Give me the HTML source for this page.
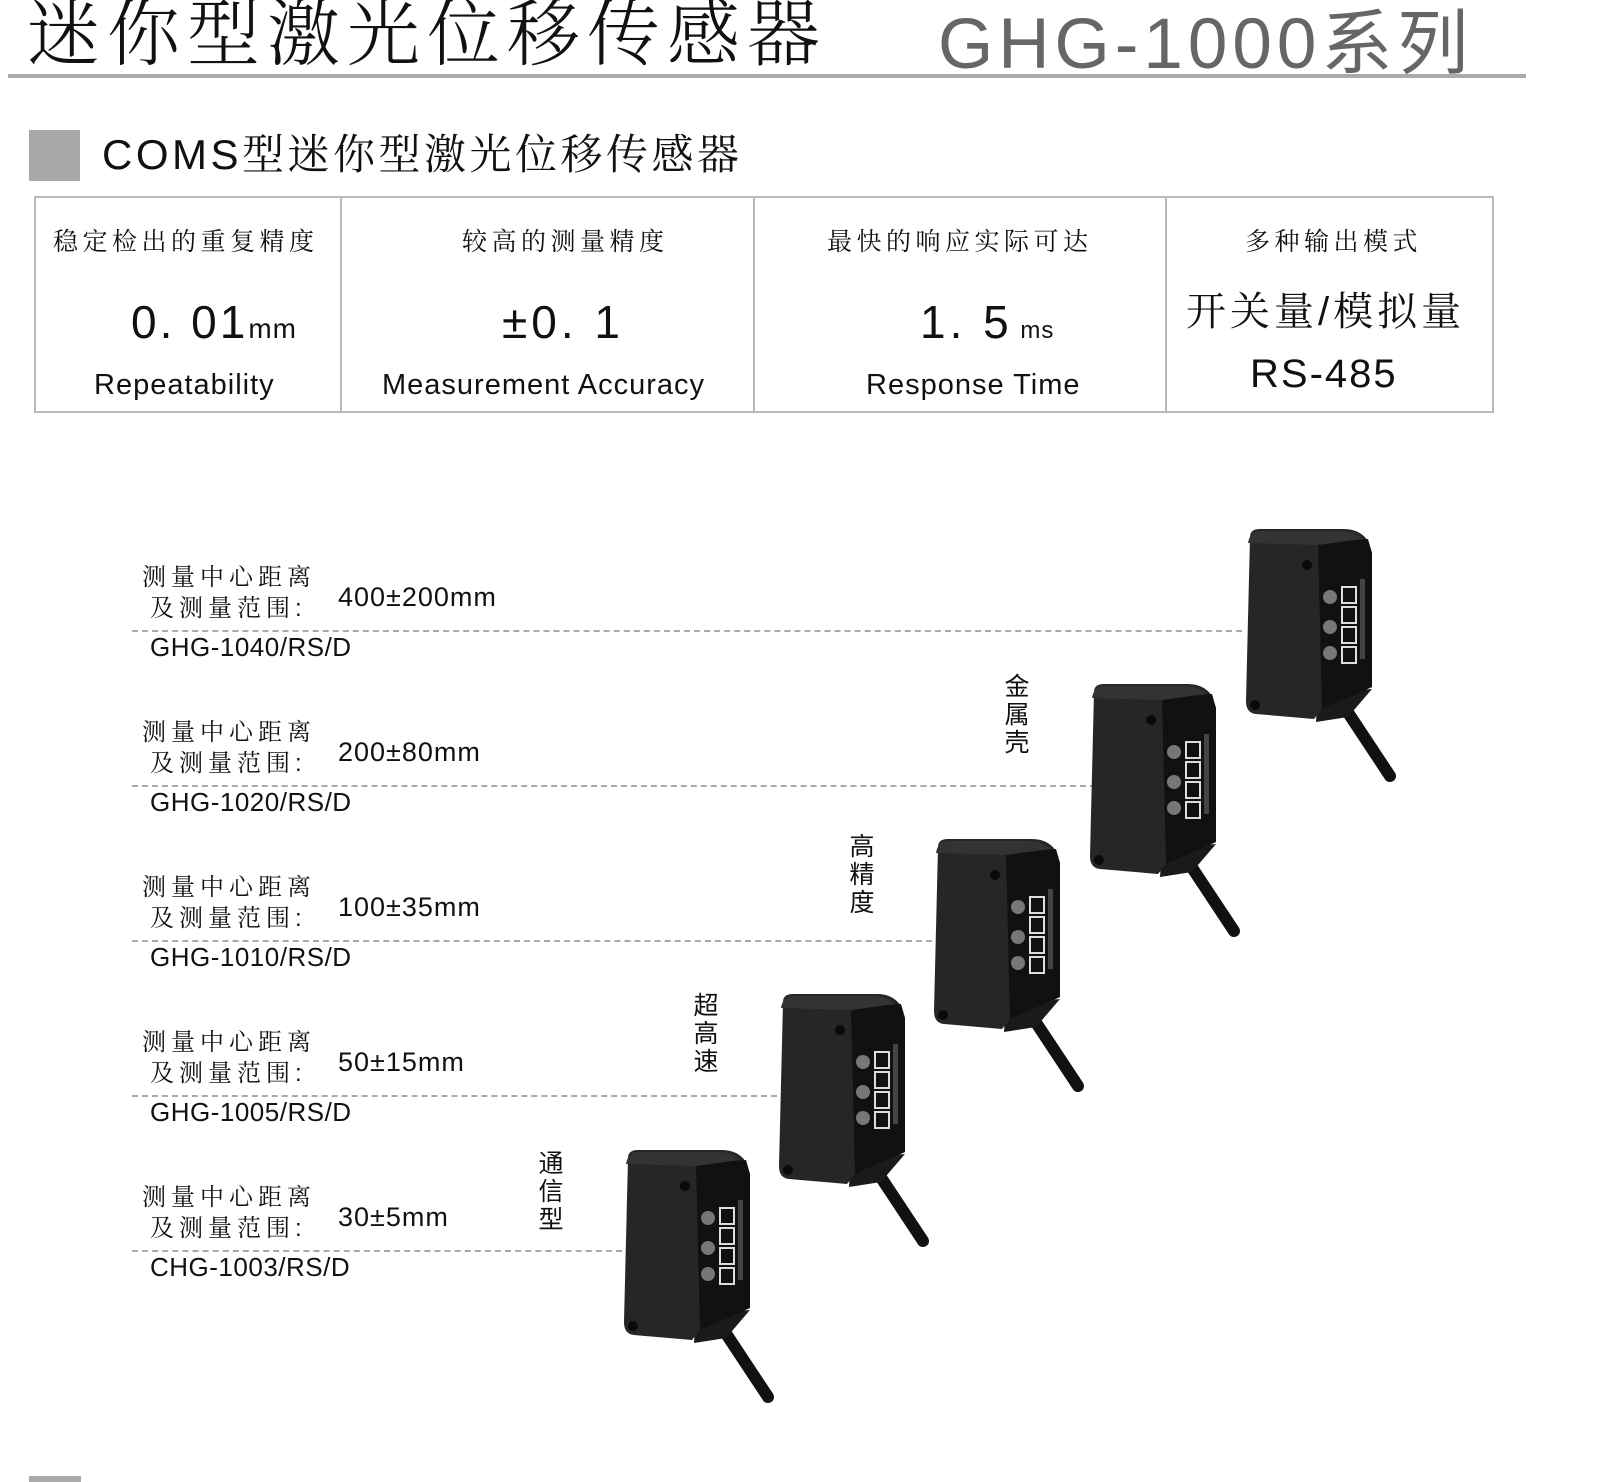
<!DOCTYPE html>
<html><head><meta charset="utf-8"><style>
body{margin:0;width:1600px;height:1482px;background:#fff;position:relative;overflow:hidden;font-family:"Liberation Sans","Noto Sans CJK SC",sans-serif;color:#111}
.a{position:absolute;white-space:nowrap;line-height:1}
.cj{font-family:"Liberation Sans","Noto Serif CJK SC","Noto Sans CJK SC",sans-serif}
.lab{font-size:24px;letter-spacing:5px;font-family:"Liberation Sans","Noto Serif CJK SC",sans-serif}
.val{font-size:27px;letter-spacing:1px}
.mod{font-size:26px;letter-spacing:.5px}
.dash{position:absolute;left:132px;height:0;border-top:2px dashed #aaa}
.vt{position:absolute;font-size:25px;width:28px;line-height:28px;text-align:center;font-family:"Liberation Sans","Noto Sans CJK SC",sans-serif}
.cell{position:absolute;top:196px;height:215px;text-align:center}
</style></head><body>
<div class="a cj" style="left:27px;top:-2px;font-size:73px;letter-spacing:7px;font-weight:300">迷你型激光位移传感器</div>
<div class="a" style="left:938px;top:3px;font-size:71px;color:#666;letter-spacing:5px">GHG-1000<span style="font-family:'Noto Sans CJK SC',sans-serif">系列</span></div>
<div class="a" style="left:8px;top:74px;width:1518px;height:4px;background:#aaa"></div>
<div class="a" style="left:29px;top:130px;width:51px;height:51px;background:#a8a8a8"></div>
<div class="a cj" style="left:102px;top:134px;font-size:42px;letter-spacing:3.5px">COMS型迷你型激光位移传感器</div>
<div class="a" style="left:34px;top:196px;width:1456px;height:213px;border:2px solid #bbb"></div>
<div class="a" style="left:340px;top:196px;width:2px;height:215px;background:#bbb"></div>
<div class="a" style="left:753px;top:196px;width:2px;height:215px;background:#bbb"></div>
<div class="a" style="left:1165px;top:196px;width:2px;height:215px;background:#bbb"></div>

<div class="cell" style="left:36px;width:304px">
<div class="a lab" style="left:17px;top:34px;font-size:25px;letter-spacing:4.5px">稳定检出的重复精度</div>
<div class="a" style="left:95px;top:103px;font-size:46px;letter-spacing:3px">0. 01<span style="font-size:28px;letter-spacing:1px">mm</span></div>
<div class="a" style="left:58px;top:175px;font-size:29px;letter-spacing:1px">Repeatability</div></div>
<div class="cell" style="left:342px;width:411px">
<div class="a lab" style="left:120px;top:34px;font-size:25px;letter-spacing:4.5px">较高的测量精度</div>
<div class="a" style="left:160px;top:103px;font-size:46px;letter-spacing:4px">±0. 1</div>
<div class="a" style="left:40px;top:175px;font-size:29px;letter-spacing:1px">Measurement Accuracy</div></div>
<div class="cell" style="left:755px;width:410px">
<div class="a lab" style="left:72px;top:34px;font-size:25px;letter-spacing:4.5px">最快的响应实际可达</div>
<div class="a" style="left:165px;top:103px;font-size:46px;letter-spacing:4px">1. 5<span style="font-size:24px;letter-spacing:1px"> ms</span></div>
<div class="a" style="left:111px;top:175px;font-size:29px;letter-spacing:1px">Response Time</div></div>
<div class="cell" style="left:1167px;width:323px">
<div class="a lab" style="left:78px;top:34px;font-size:25px;letter-spacing:4.5px">多种输出模式</div>
<div class="a cj" style="left:19px;top:96px;font-size:40px;letter-spacing:4px">开关量/模拟量</div>
<div class="a" style="left:83px;top:158px;font-size:40px;letter-spacing:2px">RS-485</div></div>

<div class="a lab" style="left:142px;top:566px">测量中心距离</div><div class="a lab" style="left:150px;top:597px">及测量范围:</div><div class="a val" style="left:338px;top:584px">400±200mm</div><div class="dash" style="top:630px;width:1110px"></div><div class="a mod" style="left:150px;top:634px">GHG-1040/RS/D</div>
<div class="a lab" style="left:142px;top:721px">测量中心距离</div><div class="a lab" style="left:150px;top:752px">及测量范围:</div><div class="a val" style="left:338px;top:739px">200±80mm</div><div class="dash" style="top:785px;width:964px"></div><div class="a mod" style="left:150px;top:789px">GHG-1020/RS/D</div>
<div class="a lab" style="left:142px;top:876px">测量中心距离</div><div class="a lab" style="left:150px;top:907px">及测量范围:</div><div class="a val" style="left:338px;top:894px">100±35mm</div><div class="dash" style="top:940px;width:800px"></div><div class="a mod" style="left:150px;top:944px">GHG-1010/RS/D</div>
<div class="a lab" style="left:142px;top:1031px">测量中心距离</div><div class="a lab" style="left:150px;top:1062px">及测量范围:</div><div class="a val" style="left:338px;top:1049px">50±15mm</div><div class="dash" style="top:1095px;width:645px"></div><div class="a mod" style="left:150px;top:1099px">GHG-1005/RS/D</div>
<div class="a lab" style="left:142px;top:1186px">测量中心距离</div><div class="a lab" style="left:150px;top:1217px">及测量范围:</div><div class="a val" style="left:338px;top:1204px">30±5mm</div><div class="dash" style="top:1250px;width:490px"></div><div class="a mod" style="left:150px;top:1254px">CHG-1003/RS/D</div>

<div class="vt" style="left:1003px;top:673px">金属壳</div>
<div class="vt" style="left:848px;top:833px">高精度</div>
<div class="vt" style="left:692px;top:992px">超高速</div>
<div class="vt" style="left:537px;top:1150px">通信型</div>

<svg class="a" style="left:0;top:0" width="1600" height="1482">
<defs>
<g id="s">
<line x1="95" y1="170" x2="146" y2="247" stroke="#111" stroke-width="12" stroke-linecap="round"/>
<path d="M74 165 L128 160 L104 188 L72 193 Z" fill="#1a1a1a"/>
<path d="M6 8 Q6 0 16 0 L100 0 Q116 0 124 12 L128 24 L128 158 L78 180 L70 190 L12 185 Q2 184 2 172 Z" fill="#262626"/>
<path d="M74 14 L124 10 L128 24 L128 158 L78 180 Z" fill="#111"/>
<path d="M4 14 Q6 2 16 2 L96 2 Q110 2 118 10 L74 16 Z" fill="#333"/>
<circle cx="63" cy="36" r="5" fill="#0a0a0a"/>
<circle cx="11" cy="176" r="5" fill="#0a0a0a"/>
<g fill="none" stroke="#ddd" stroke-width="2">
<rect x="98" y="58" width="14" height="16"/><rect x="98" y="78" width="14" height="16"/><rect x="98" y="98" width="14" height="16"/><rect x="98" y="118" width="14" height="16"/>
</g>
<circle cx="86" cy="68" r="7" fill="#777"/>
<circle cx="86" cy="98" r="7" fill="#777"/>
<circle cx="86" cy="124" r="7" fill="#777"/>
<rect x="116" y="50" width="5" height="80" fill="#444"/>
</g>
</defs>
<use href="#s" x="1244" y="529"/>
<use href="#s" x="1088" y="684"/>
<use href="#s" x="932" y="839"/>
<use href="#s" x="777" y="994"/>
<use href="#s" x="622" y="1150"/>
</svg>
<div class="a" style="left:29px;top:1476px;width:52px;height:6px;background:#aaa"></div>
</body></html>
